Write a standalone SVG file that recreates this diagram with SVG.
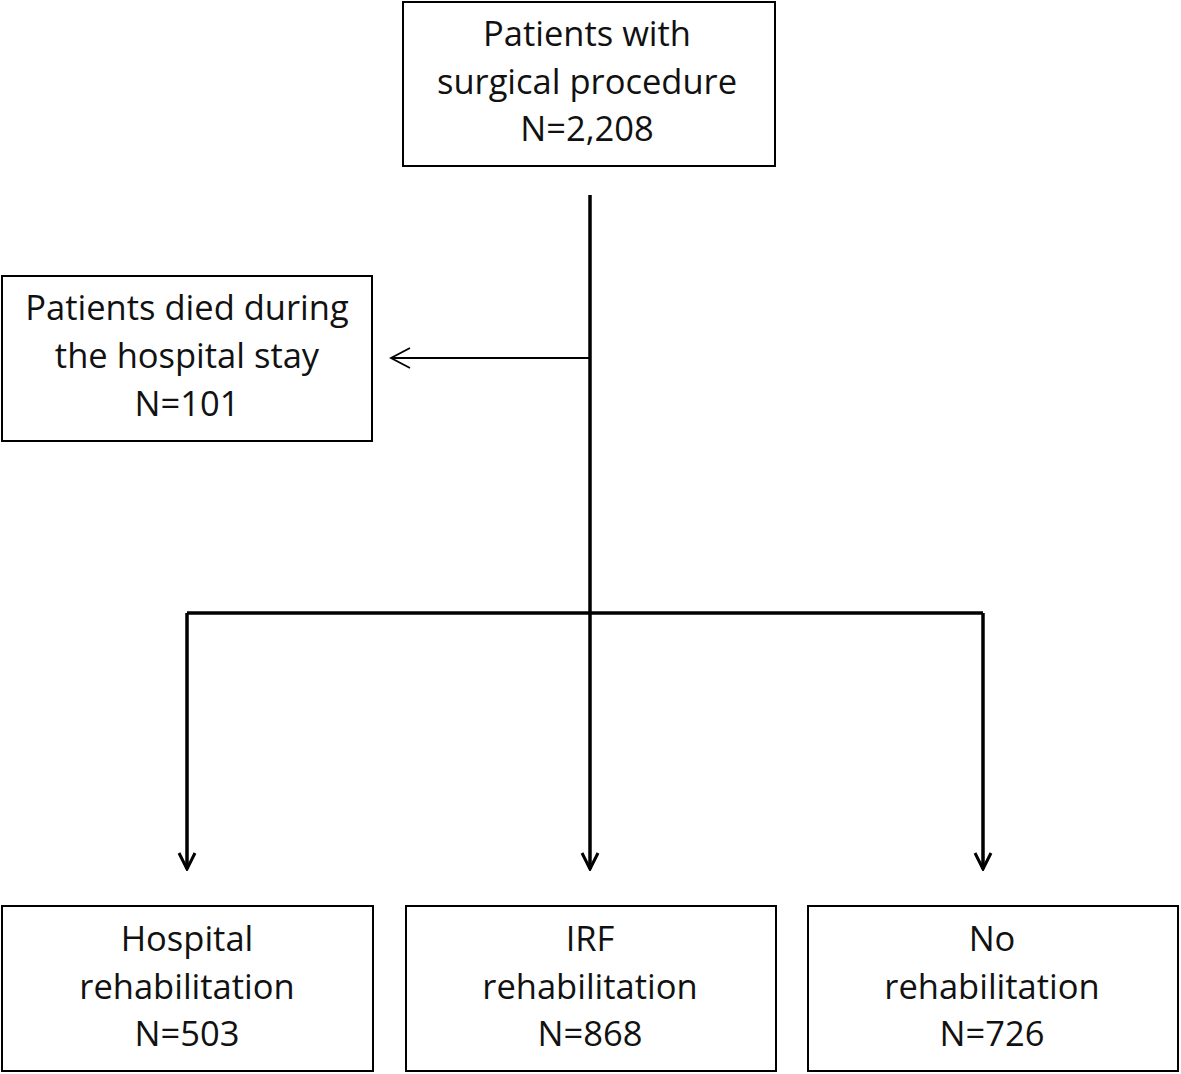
<svg xmlns="http://www.w3.org/2000/svg" width="1181" height="1074" viewBox="0 0 1181 1074">
<style>
.box{fill:#fff;stroke:#000;stroke-width:2}
.t{font-family:"Open Sans","DejaVu Sans",sans-serif;font-size:34.5px;fill:#111;text-anchor:middle}
.main{fill:none;stroke:#000;stroke-width:3.5}
.thin{fill:none;stroke:#000;stroke-width:1.8}
</style>
<defs>
<marker id="ah" viewBox="0 0 20 20" refX="18" refY="10" markerWidth="20" markerHeight="20" markerUnits="userSpaceOnUse" orient="auto">
<path d="M2,2 L18,10 L2,18" fill="none" stroke="#000" stroke-width="3"/>
</marker>
<marker id="ah2" viewBox="0 0 24 22" refX="21" refY="11" markerWidth="24" markerHeight="22" markerUnits="userSpaceOnUse" orient="auto">
<path d="M2,1 L21,11 L2,21" fill="none" stroke="#000" stroke-width="1.8"/>
</marker>
</defs>
<rect width="1181" height="1074" fill="#fff"/>
<g id="connectors">
<line class="main" x1="590" y1="195" x2="590" y2="612"/>
<line class="thin" x1="590" y1="358" x2="391" y2="358" marker-end="url(#ah2)"/>
<line class="main" x1="187" y1="613" x2="983" y2="613"/>
<line class="main" x1="187" y1="613" x2="187" y2="869" marker-end="url(#ah)"/>
<line class="main" x1="590" y1="612" x2="590" y2="869" marker-end="url(#ah)"/>
<line class="main" x1="983" y1="613" x2="983" y2="869" marker-end="url(#ah)"/>
</g>
<g id="n-surgical">
<rect class="box" x="403" y="2" width="372" height="164"/>
<text class="t" x="587" y="46">Patients with</text>
<text class="t" x="587" y="94">surgical procedure</text>
<text class="t" x="587" y="141">N=2,208</text>
</g>
<g id="n-died">
<rect class="box" x="2" y="276" width="370" height="165"/>
<text class="t" x="187" y="320">Patients died during</text>
<text class="t" x="187" y="368">the hospital stay</text>
<text class="t" x="187" y="416">N=101</text>
</g>
<g id="n-hospital">
<rect class="box" x="2" y="906" width="371" height="165"/>
<text class="t" x="187" y="951">Hospital</text>
<text class="t" x="187" y="999">rehabilitation</text>
<text class="t" x="187" y="1046">N=503</text>
</g>
<g id="n-irf">
<rect class="box" x="406" y="906" width="370" height="165"/>
<text class="t" x="590" y="951">IRF</text>
<text class="t" x="590" y="999">rehabilitation</text>
<text class="t" x="590" y="1046">N=868</text>
</g>
<g id="n-none">
<rect class="box" x="808" y="906" width="370" height="165"/>
<text class="t" x="992" y="951">No</text>
<text class="t" x="992" y="999">rehabilitation</text>
<text class="t" x="992" y="1046">N=726</text>
</g>
</svg>
